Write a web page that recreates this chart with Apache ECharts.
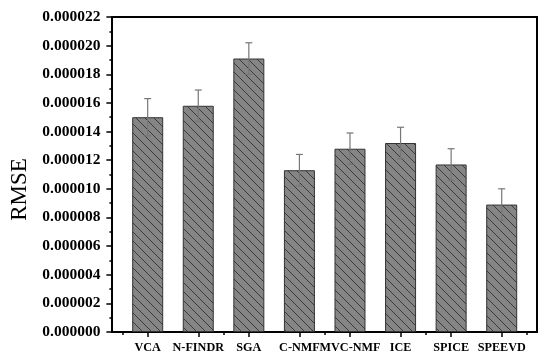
<!DOCTYPE html>
<html>
<head>
<meta charset="utf-8">
<script src="https://cdn.jsdelivr.net/npm/echarts@6/dist/echarts.min.js"></script>
<style>html,body{margin:0;padding:0;background:#fff}#c{width:550px;height:364px}</style>
</head>
<body>
<div id="c"></div>
<script>
const categories = ['VCA', 'N-FINDR', 'SGA', 'C-NMF', 'MVC-NMF', 'ICE', 'SPICE', 'SPEEVD'];
const rmse = [0.0000150, 0.0000158, 0.0000191, 0.0000113, 0.0000128, 0.0000132, 0.0000117, 0.0000089];
const rmseErr = [0.0000013, 0.0000011, 0.0000011, 0.0000011, 0.0000011, 0.0000011, 0.0000011, 0.0000011];
const yMin = 0, yMax = 0.000022, yStep = 0.000002;

// hatch pattern
const T = 9;
const pc = document.createElement('canvas');
pc.width = T; pc.height = T;
const g = pc.getContext('2d');
g.fillStyle = '#858585';
g.fillRect(0, 0, T, T);
g.strokeStyle = '#3a3a3a';
g.lineWidth = 1;
g.beginPath();
g.moveTo(-1, -1); g.lineTo(T + 1, T + 1);
g.moveTo(-T - 1, -1); g.lineTo(1, T + 1);
g.moveTo(T - 1, -1); g.lineTo(2 * T + 1, T + 1);
g.stroke();

const serif = '"Liberation Serif","Times New Roman",serif';
const chart = echarts.init(document.getElementById('c'), null, {renderer: 'canvas'});
chart.setOption({
  animation: false,
  grid: [
    {left: 112, right: 13, top: 17, bottom: 32, show: true, borderColor: '#000', borderWidth: 2, backgroundColor: 'transparent'},
    {left: 122.4, right: 23, top: 17, bottom: 32}
  ],
  xAxis: [
    {gridIndex: 0, type: 'value', show: false, min: 0, max: 1},
    {gridIndex: 1, type: 'category', data: categories, position: 'bottom',
     axisLine: {show: false},
     axisTick: {show: true, alignWithLabel: true, length: 5, lineStyle: {color: '#000', width: 1.5}},
     axisLabel: {interval: 0, margin: 10, color: '#000', fontFamily: serif, fontWeight: 'bold', fontSize: 12.2}},
    {gridIndex: 1, type: 'category', data: categories, position: 'bottom',
     axisLine: {show: false},
     axisTick: {show: true, length: 3, lineStyle: {color: '#000', width: 1.5}},
     axisLabel: {show: false}}
  ],
  yAxis: [
    {gridIndex: 0, type: 'value', show: false, min: 0, max: 1},
    {gridIndex: 1, type: 'value', min: yMin, max: yMax, interval: yStep, offset: 10,
     name: 'RMSE', nameLocation: 'middle', nameRotate: 90, nameGap: 80,
     nameTextStyle: {fontFamily: serif, fontSize: 23, color: '#000', padding: [0, 30, 0, 0]},
     splitLine: {show: false},
     axisLine: {show: false},
     axisTick: {show: true, length: 6, lineStyle: {color: '#000', width: 1.5}},
     minorTick: {show: true, splitNumber: 2, length: 3, lineStyle: {color: '#000', width: 1.5}},
     axisLabel: {margin: 12, color: '#000', fontFamily: serif, fontWeight: 'bold', fontSize: 15.5,
       formatter: v => v.toFixed(6)}}
  ],
  series: [
    {type: 'bar', xAxisIndex: 1, yAxisIndex: 1, data: rmse, barWidth: 31,
     itemStyle: {color: {image: pc, repeat: 'repeat'}, borderColor: '#333', borderWidth: 1}},
    {type: 'custom', xAxisIndex: 1, yAxisIndex: 1, z: 5,
     data: rmse.map((v, i) => [i, v - rmseErr[i], v + rmseErr[i]]),
     renderItem: (params, api) => {
       const lo = api.coord([api.value(0), api.value(1)]);
       const hi = api.coord([api.value(0), api.value(2)]);
       const hw = 3.5;
       const st = {stroke: '#777', lineWidth: 1.2};
       return {type: 'group', children: [
         {type: 'line', shape: {x1: hi[0], y1: hi[1], x2: lo[0], y2: lo[1]}, style: st},
         {type: 'line', shape: {x1: hi[0] - hw, y1: hi[1], x2: hi[0] + hw, y2: hi[1]}, style: st},
         {type: 'line', shape: {x1: lo[0] - hw, y1: lo[1], x2: lo[0] + hw, y2: lo[1]}, style: st}
       ]};
     }}
  ]
});
</script>
</body>
</html>
